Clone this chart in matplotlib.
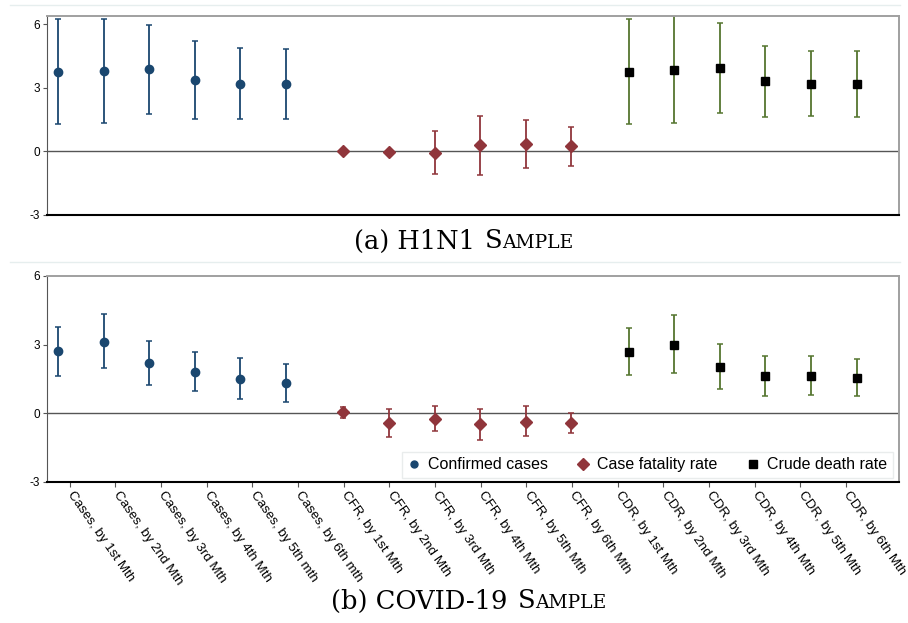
import numpy as np
import matplotlib
matplotlib.use("Agg")
import matplotlib.pyplot as plt
from matplotlib.lines import Line2D
from matplotlib.offsetbox import TextArea, HPacker, AnchoredOffsetbox

plt.rcParams['font.family'] = ['Liberation Sans', 'DejaVu Sans']

# Coefficients and 95% CIs, by outcome and month
h1n1_cases = [3.76, 3.79, 3.87, 3.35, 3.19, 3.19]
h1n1_cases_lo = [1.27, 1.32, 1.75, 1.51, 1.51, 1.54]
h1n1_cases_hi = [6.25, 6.28, 5.98, 5.22, 4.89, 4.86]
h1n1_cfr = [0.01, -0.02, -0.08, 0.27, 0.36, 0.24]
h1n1_cfr_lo = [-0.08, -0.10, -1.10, -1.13, -0.79, -0.68]
h1n1_cfr_hi = [0.09, 0.06, 0.96, 1.68, 1.46, 1.16]
h1n1_cdr = [3.76, 3.85, 3.93, 3.31, 3.19, 3.16]
h1n1_cdr_lo = [1.27, 1.32, 1.81, 1.62, 1.67, 1.62]
h1n1_cdr_hi = [6.25, 6.38, 6.06, 5.00, 4.74, 4.74]

covid_cases = [2.72, 3.13, 2.18, 1.82, 1.50, 1.31]
covid_cases_lo = [1.64, 1.97, 1.25, 0.96, 0.63, 0.51]
covid_cases_hi = [3.79, 4.35, 3.16, 2.68, 2.42, 2.15]
covid_cfr = [0.04, -0.44, -0.25, -0.48, -0.37, -0.42]
covid_cfr_lo = [-0.21, -1.04, -0.77, -1.15, -1.01, -0.87]
covid_cfr_hi = [0.29, 0.20, 0.33, 0.20, 0.31, 0.03]
covid_cdr = [2.69, 3.00, 2.04, 1.63, 1.63, 1.56]
covid_cdr_lo = [1.67, 1.76, 1.05, 0.77, 0.80, 0.76]
covid_cdr_hi = [3.73, 4.28, 3.03, 2.49, 2.49, 2.36]

xlabels = ['Cases, by 1st Mth', 'Cases, by 2nd Mth', 'Cases, by 3rd Mth',
           'Cases, by 4th Mth', 'Cases, by 5th mth', 'Cases, by 6th mth',
           'CFR, by 1st Mth', 'CFR, by 2nd Mth', 'CFR, by 3rd Mth',
           'CFR, by 4th Mth', 'CFR, by 5th Mth', 'CFR, by 6th Mth',
           'CDR, by 1st Mth', 'CDR, by 2nd Mth', 'CDR, by 3rd Mth',
           'CDR, by 4th Mth', 'CDR, by 5th Mth', 'CDR, by 6th Mth']

navy = '#1a476f'
maroon = '#90353b'
green = '#55752f'

months = np.arange(6)
gap = 6.256
tick_pos = np.linspace(0.26, 17.28, 18)


def draw_group(ax, g, est, lo, hi, ecol, mcol, marker, ms):
    x = months + g * gap
    est = np.array(est)
    err = [est - np.array(lo), np.array(hi) - est]
    ax.errorbar(x, est, yerr=err, fmt='none', ecolor=ecol, elinewidth=1.3,
                capsize=2.3, capthick=1.1, zorder=2)
    ax.plot(x, est, linestyle='none', marker=marker, color=mcol, ms=ms,
            mec=mcol, zorder=3)


def style_axes(ax, ymax):
    ax.set_xlim(-0.24, 18.44)
    ax.set_ylim(-3, ymax)
    ax.set_yticks([-3, 0, 3, 6])
    ax.set_yticklabels(['-3', '0', '3', '6'])
    ax.axhline(0, color='#555555', lw=1, zorder=1)
    ax.spines['left'].set_color('#555555')
    ax.spines['bottom'].set_color('black')
    ax.spines['bottom'].set_linewidth(1.5)
    for s in ('top', 'right'):
        ax.spines[s].set_color('#a0a0a0')
        ax.spines[s].set_linewidth(1.4)
    ax.tick_params(axis='y', labelsize=8.5, length=3, color='#555555', pad=2)


fig = plt.figure(figsize=(9.08, 6.23), dpi=100)
H = 623.0
W = 908.0
ax1 = fig.add_axes([47 / W, (H - 214.5) / H, 852 / W, 198.5 / H])
ax2 = fig.add_axes([47 / W, (H - 482) / H, 852 / W, 206 / H])

draw_group(ax1, 0, h1n1_cases, h1n1_cases_lo, h1n1_cases_hi, navy, navy, 'o', 6)
draw_group(ax1, 1, h1n1_cfr, h1n1_cfr_lo, h1n1_cfr_hi, maroon, maroon, 'D', 5.8)
draw_group(ax1, 2, h1n1_cdr, h1n1_cdr_lo, h1n1_cdr_hi, green, 'black', 's', 6.2)
style_axes(ax1, 6.4)
ax1.set_xticks([])

draw_group(ax2, 0, covid_cases, covid_cases_lo, covid_cases_hi, navy, navy, 'o', 6)
draw_group(ax2, 1, covid_cfr, covid_cfr_lo, covid_cfr_hi, maroon, maroon, 'D', 5.8)
draw_group(ax2, 2, covid_cdr, covid_cdr_lo, covid_cdr_hi, green, 'black', 's', 6.2)
style_axes(ax2, 6.0)
ax2.set_xticks(tick_pos)
ax2.set_xticklabels(xlabels, rotation=-55, ha='left', va='center',
                    rotation_mode='anchor', fontsize=9.6)
ax2.tick_params(axis='x', length=3.5, color='#555555', pad=4)

handles = [
    Line2D([], [], ls='none', marker='o', color=navy, ms=5),
    Line2D([], [], ls='none', marker='D', color=maroon, ms=6),
    Line2D([], [], ls='none', marker='s', color='black', ms=6),
]
leg = ax2.legend(handles, ['Confirmed cases', 'Case fatality rate', 'Crude death rate'],
                 loc='lower right', bbox_to_anchor=(0.993, 0.02), ncol=3,
                 fontsize=11.5, frameon=True, fancybox=False, handlelength=0.8,
                 handletextpad=0.5, columnspacing=1.8, borderpad=0.35,
                 borderaxespad=0)
leg.get_frame().set_edgecolor('#e4e8e8')
leg.get_frame().set_linewidth(1)

# light panel separators
for yy in (4.5, 262):
    fig.add_artist(Line2D([10 / W, 900 / W], [1 - yy / H, 1 - yy / H],
                          color='#e6eeee', lw=1))


def caption(text, sc, xc, yc):
    serif = dict(family='DejaVu Serif', size=18.5, color='black')
    small = dict(family='DejaVu Serif', size=13.5, color='black')
    word = HPacker(children=[TextArea(sc[0], textprops=serif),
                             TextArea(sc[1:].upper(), textprops=small)],
                   align='baseline', pad=0, sep=0)
    box = HPacker(children=[TextArea(text, textprops=serif), word],
                  align='baseline', pad=0, sep=7)
    anch = AnchoredOffsetbox(loc='center', child=box, pad=0, borderpad=0,
                             frameon=False, bbox_to_anchor=(xc / W, 1 - yc / H),
                             bbox_transform=fig.transFigure)
    fig.add_artist(anch)


caption('(a) H1N1', 'Sample', 464, 241)
caption('(b) COVID-19', 'Sample', 469, 601)

fig.savefig('out.png', dpi=100)
